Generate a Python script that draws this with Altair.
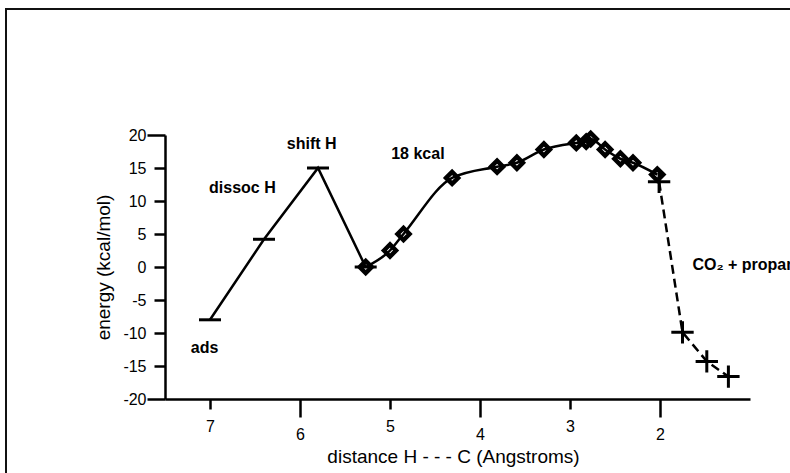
import altair as alt
import pandas as pd

# bar-marker series (solid straight segments)
step_x = [7.0, 6.4, 5.8, 5.27]
step_y = [-8.0, 4.2, 15.0, 0.0]

# diamond series (smooth solid curve)
scan_x = [5.27, 5.00, 4.85, 4.31, 3.81, 3.59, 3.29, 2.93, 2.82, 2.77, 2.61, 2.44, 2.30, 2.03]
scan_y = [0.0, 2.5, 5.0, 13.5, 15.2, 15.8, 17.8, 18.8, 19.0, 19.4, 17.8, 16.4, 15.8, 14.0]

# cross series (dashed line)
prod_x = [2.01, 1.75, 1.48, 1.24]
prod_y = [12.9, -9.9, -14.3, -16.6]

# annotations
note_text = ["ads", "dissoc H", "shift H", "18 kcal", "CO\u2082 + propane"]
note_x = [7.06, 6.64, 5.87, 4.69, 1.64]
note_y = [-12.3, 11.9, 18.6, 17.15, 0.3]
note_align = ["center", "center", "center", "center", "left"]

x_ticks = [7, 6, 5, 4, 3, 2]
y_ticks = [-20, -15, -10, -5, 0, 5, 10, 15, 20]

FONT = "Liberation Sans"

step_df = pd.DataFrame({"x": step_x, "y": step_y})
scan_df = pd.DataFrame({"x": scan_x, "y": scan_y})
prod_df = pd.DataFrame({"x": prod_x, "y": prod_y})
note_df = pd.DataFrame({"x": note_x, "y": note_y, "t": note_text, "a": note_align})

X = alt.X(
    "x:Q",
    scale=alt.Scale(domain=[1.0, 7.5], reverse=True, nice=False, zero=False),
    axis=alt.Axis(
        values=x_ticks,
        title="distance H - - - C  (Angstroms)",
        grid=False,
        domainColor="black",
        domainWidth=2.5,
        tickColor="black",
        tickWidth=2.5,
        tickSize={"condition": {"test": "datum.value % 2 == 0", "value": 18}, "value": 10},
        labelPadding=9,
        labelFont=FONT,
        labelFontSize=16,
        labelColor="black",
        labelFlush=False,
        labelOverlap=False,
        titleFont=FONT,
        titleFontSize=19,
        titleFontWeight="normal",
        titleColor="black",
        titleX=288,
        titleY=57,
        titleBaseline="middle",
    ),
)

Y = alt.Y(
    "y:Q",
    scale=alt.Scale(domain=[-20, 20], nice=False, zero=False),
    axis=alt.Axis(
        values=y_ticks,
        title="energy (kcal/mol)",
        grid=False,
        domainColor="black",
        domainWidth=2.5,
        tickColor="black",
        tickWidth=2.5,
        tickSize={"condition": {"test": "abs(datum.value) == 20", "value": 18}, "value": 11},
        labelPadding={"condition": {"test": "abs(datum.value) == 20", "value": 1}, "value": 8},
        labelExpr="'' + datum.value",
        labelFont=FONT,
        labelFontSize=16,
        labelColor="black",
        labelFlush=False,
        labelOverlap=False,
        titleFont=FONT,
        titleFontSize=19,
        titleFontWeight="normal",
        titleColor="black",
        titleAngle=-90,
        titleX=-62,
        titleY=132,
        titleAlign="center",
        titleBaseline="middle",
    ),
)

frame = alt.Chart(step_df).mark_rect(
    fillOpacity=0, stroke="#111111", strokeWidth=2
).encode(
    x=alt.value(-159), x2=alt.value(900), y=alt.value(-126), y2=alt.value(700)
)

step_line = alt.Chart(step_df).mark_line(color="black", strokeWidth=2.5).encode(
    x=X, y=Y, order=alt.Order("x:Q", sort="descending")
)
step_pts = alt.Chart(step_df).mark_point(
    shape="M-1,0L1,0", size=484, color="black", strokeWidth=3, opacity=1
).encode(x=X, y=Y)

scan_line = alt.Chart(scan_df).mark_line(
    color="black", strokeWidth=2.5, interpolate="monotone"
).encode(x=X, y=Y, order=alt.Order("x:Q", sort="descending"))
scan_pts = alt.Chart(scan_df).mark_point(
    shape="diamond", size=144, color="black", strokeWidth=4.5, opacity=1
).encode(x=X, y=Y)

prod_line = alt.Chart(prod_df).mark_line(
    color="black", strokeWidth=2.5, strokeDash=[9, 5]
).encode(x=X, y=Y, order=alt.Order("x:Q", sort="descending"))
prod_pts = alt.Chart(prod_df).mark_point(
    shape="M-1,0L1,0M0,-1L0,1", size=500, color="black", strokeWidth=3, opacity=1
).encode(x=X, y=Y)

notes_c = alt.Chart(note_df[note_df["a"] == "center"]).mark_text(
    font=FONT, fontSize=16, fontWeight="bold", color="black", baseline="middle", align="center"
).encode(x=X, y=Y, text="t:N")
notes_l = alt.Chart(note_df[note_df["a"] == "left"]).mark_text(
    font=FONT, fontSize=16, fontWeight="bold", color="black", baseline="middle", align="left"
).encode(x=X, y=Y, text="t:N")

chart = alt.layer(
    frame, step_line, scan_line, prod_line, step_pts, scan_pts, prod_pts, notes_c, notes_l
).properties(
    width=585,
    height=264,
    padding={"left": 165, "top": 135, "right": 40, "bottom": 74},
    autosize=alt.AutoSizeParams(type="none"),
    background="white",
).configure_view(strokeWidth=0)

chart.save("out.html", embed_options={"renderer": "svg", "actions": False})
